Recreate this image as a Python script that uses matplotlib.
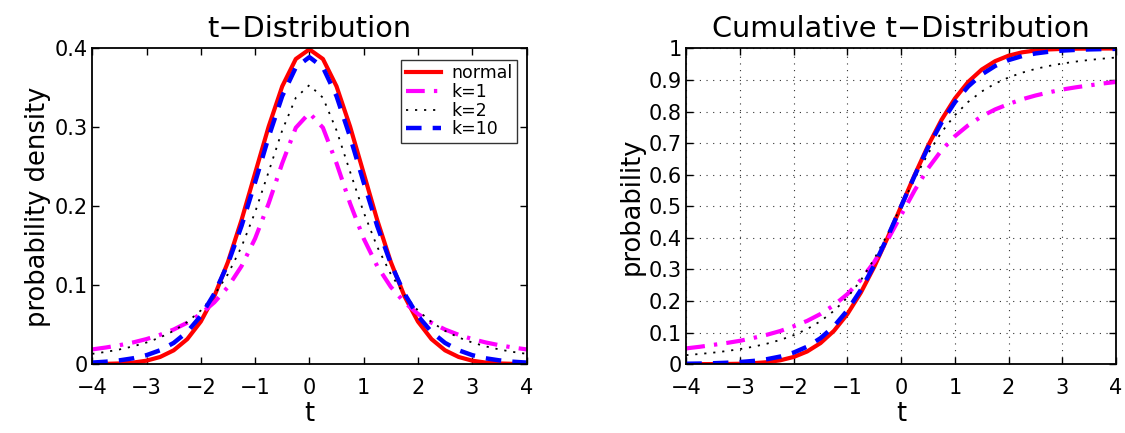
import matplotlib
matplotlib.use("Agg")
import matplotlib.pyplot as plt
from matplotlib.ticker import FixedLocator, FixedFormatter

plt.rcParams['font.family'] = ['DejaVu Sans']

t = [-4.0, -3.75, -3.5, -3.25, -3.0, -2.75, -2.5, -2.25, -2.0, -1.75, -1.5, -1.25, -1.0,
     -0.75, -0.5, -0.25, 0.0, 0.25, 0.5, 0.75, 1.0, 1.25, 1.5, 1.75, 2.0, 2.25, 2.5,
     2.75, 3.0, 3.25, 3.5, 3.75, 4.0]

pdf_normal = [0.0001, 0.0004, 0.0009, 0.0020, 0.0044, 0.0091, 0.0175, 0.0317, 0.0540,
              0.0863, 0.1295, 0.1826, 0.2420, 0.3011, 0.3521, 0.3867, 0.3989, 0.3867,
              0.3521, 0.3011, 0.2420, 0.1826, 0.1295, 0.0863, 0.0540, 0.0317, 0.0175,
              0.0091, 0.0044, 0.0020, 0.0009, 0.0004, 0.0001]
pdf_k1 = [0.0187, 0.0211, 0.0240, 0.0275, 0.0318, 0.0372, 0.0439, 0.0525, 0.0637,
          0.0784, 0.0979, 0.1242, 0.1592, 0.2037, 0.2546, 0.2996, 0.3183, 0.2996,
          0.2546, 0.2037, 0.1592, 0.1242, 0.0979, 0.0784, 0.0637, 0.0525, 0.0439,
          0.0372, 0.0318, 0.0275, 0.0240, 0.0211, 0.0187]
pdf_k2 = [0.0131, 0.0155, 0.0186, 0.0225, 0.0274, 0.0338, 0.0422, 0.0533, 0.0680,
          0.0878, 0.1141, 0.1487, 0.1925, 0.2438, 0.2963, 0.3376, 0.3536, 0.3376,
          0.2963, 0.2438, 0.1925, 0.1487, 0.1141, 0.0878, 0.0680, 0.0533, 0.0422,
          0.0338, 0.0274, 0.0225, 0.0186, 0.0155, 0.0131]
pdf_k10 = [0.0020, 0.0031, 0.0048, 0.0074, 0.0114, 0.0176, 0.0269, 0.0409, 0.0611,
           0.0895, 0.1274, 0.1751, 0.2304, 0.2880, 0.3397, 0.3760, 0.3891, 0.3760,
           0.3397, 0.2880, 0.2304, 0.1751, 0.1274, 0.0895, 0.0611, 0.0409, 0.0269,
           0.0176, 0.0114, 0.0074, 0.0048, 0.0031, 0.0020]

cdf_normal = [0.0000, 0.0001, 0.0002, 0.0006, 0.0013, 0.0030, 0.0062, 0.0122, 0.0228,
              0.0401, 0.0668, 0.1056, 0.1587, 0.2266, 0.3085, 0.4013, 0.5000, 0.5987,
              0.6915, 0.7734, 0.8413, 0.8944, 0.9332, 0.9599, 0.9772, 0.9878, 0.9938,
              0.9970, 0.9987, 0.9994, 0.9998, 0.9999, 1.0000]
cdf_k1 = [0.050, 0.055, 0.061, 0.067, 0.074, 0.083, 0.093, 0.105, 0.120, 0.137, 0.159,
          0.187, 0.222, 0.267, 0.324, 0.394, 0.472, 0.550, 0.620, 0.677, 0.722, 0.757,
          0.785, 0.807, 0.824, 0.839, 0.851, 0.861, 0.870, 0.877, 0.883, 0.889, 0.894]
cdf_k2 = [0.0286, 0.0322, 0.0364, 0.0415, 0.0477, 0.0553, 0.0648, 0.0767, 0.0918,
          0.1111, 0.1362, 0.1689, 0.2113, 0.2657, 0.3333, 0.4130, 0.5000, 0.5870,
          0.6667, 0.7343, 0.7887, 0.8311, 0.8638, 0.8889, 0.9082, 0.9233, 0.9352,
          0.9447, 0.9523, 0.9585, 0.9636, 0.9678, 0.9714]
cdf_k10 = [0.0013, 0.0019, 0.0029, 0.0044, 0.0067, 0.0102, 0.0157, 0.0241, 0.0367,
           0.0553, 0.0823, 0.1199, 0.1704, 0.2353, 0.3139, 0.4038, 0.5000, 0.5962,
           0.6861, 0.7647, 0.8296, 0.8801, 0.9177, 0.9447, 0.9633, 0.9759, 0.9843,
           0.9898, 0.9933, 0.9956, 0.9971, 0.9981, 0.9987]

legend_labels = ['normal', 'k=1', 'k=2', 'k=10']
x_ticks = [-4, -3, -2, -1, 0, 1, 2, 3, 4]
x_ticklabels = ['\u22124', '\u22123', '\u22122', '\u22121', '0', '1', '2', '3', '4']
y_ticks_pdf = [0, 0.1, 0.2, 0.3, 0.4]
y_ticklabels_pdf = ['0', '0.1', '0.2', '0.3', '0.4']
y_ticks_cdf = [0, 0.1, 0.2, 0.3, 0.4, 0.5, 0.6, 0.7, 0.8, 0.9, 1.0]
y_ticklabels_cdf = ['0', '0.1', '0.2', '0.3', '0.4', '0.5', '0.6', '0.7', '0.8', '0.9', '1']

fig = plt.figure(figsize=(11.25, 4.33), dpi=100)
ax1 = fig.add_axes([0.082, 0.159, 0.386, 0.729])
ax2 = fig.add_axes([0.610, 0.159, 0.382, 0.729])

styles = [
    dict(color='#ff0000', lw=3.0, ls='-'),
    dict(color='#ff00ff', lw=3.0, ls=(0, (4.5, 2.2, 0.8, 2.2))),
    dict(color='black', lw=1.3, ls=(0, (1.2, 3.8))),
    dict(color='#0000ff', lw=3.2, ls=(0, (3.5, 2.5))),
]

for ys, st, lab in zip([pdf_normal, pdf_k1, pdf_k2, pdf_k10], styles, legend_labels):
    ax1.plot(t, ys, label=lab, **st)
for ys, st in zip([cdf_normal, cdf_k1, cdf_k2, cdf_k10], styles):
    ax2.plot(t, ys, **st)

fs_tick = 15
for ax, yt, ytl in [(ax1, y_ticks_pdf, y_ticklabels_pdf), (ax2, y_ticks_cdf, y_ticklabels_cdf)]:
    ax.set_xlim(-4, 4)
    ax.xaxis.set_major_locator(FixedLocator(x_ticks))
    ax.xaxis.set_major_formatter(FixedFormatter(x_ticklabels))
    ax.yaxis.set_major_locator(FixedLocator(yt))
    ax.yaxis.set_major_formatter(FixedFormatter(ytl))
    ax.tick_params(direction='in', top=True, right=True, length=5, width=1,
                   labelsize=fs_tick)
    ax.tick_params(axis='x', pad=10)
    ax.tick_params(axis='y', pad=3)
    for sp in ax.spines.values():
        sp.set_linewidth(1.3)
    ax.set_xlabel('t', fontsize=18.5, labelpad=2)

ax1.set_ylim(0, 0.4)
ax2.set_ylim(0, 1)
ax1.set_title('t\u2212Distribution', fontsize=20.7, pad=8)
ax2.set_title('Cumulative t\u2212Distribution', fontsize=20.7, pad=8)
ax1.set_ylabel('probability density', fontsize=18.5, labelpad=3)
ax2.set_ylabel('probability', fontsize=18.5, labelpad=3)

ax2.grid(True, color='black', ls=(0, (1, 5)), lw=0.8, alpha=0.8)

leg = ax1.legend(loc='upper right', fontsize=12.5, frameon=True, fancybox=False,
                 edgecolor='black', handlelength=2.0, handletextpad=0.6,
                 borderpad=0.25, labelspacing=0.05, borderaxespad=0,
                 bbox_to_anchor=(0.977, 0.965))
leg.get_frame().set_linewidth(1.0)

fig.savefig('out.png', dpi=100)
